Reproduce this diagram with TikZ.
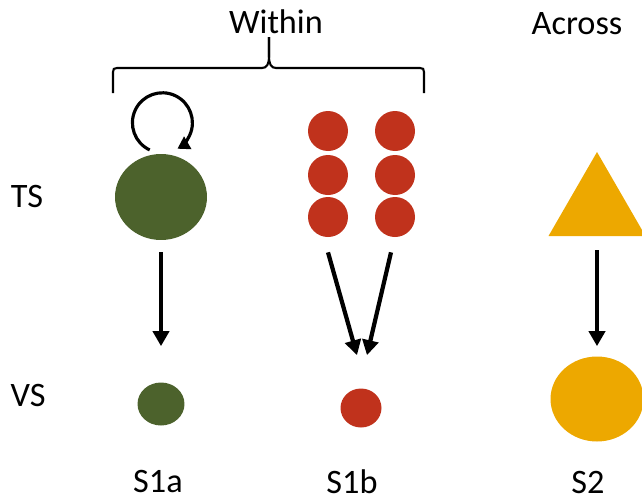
\documentclass[tikz,border=0pt]{standalone}
\usepackage{fontspec}
\setmainfont{Carlito}
\usetikzlibrary{arrows.meta,shapes.geometric}

\definecolor{tsgreen}{RGB}{76,98,44}
\definecolor{tsred}{RGB}{192,50,28}
\definecolor{tsorange}{RGB}{237,168,0}

\begin{document}
\begin{tikzpicture}[x=0.02cm,y=-0.02cm,
    every node/.style={font=\fontsize{19.5}{23}\selectfont},
    blob/.style={ellipse, fill=#1, draw=none, inner sep=0pt},
    dot/.style={circle, fill=tsred, draw=none, inner sep=0pt, minimum size=0.8cm},
    arrow/.style={line width=2.4pt, -{Triangle[width=0.32cm,length=0.3cm]}},
    selfloop/.style={line width=1.8pt, -{Triangle[width=0.28cm,length=0.24cm]}},
    bracket/.style={line width=1.2pt}]

    \useasboundingbox (0,0) rectangle (642,501);
    \clip (0,0) rectangle (642,501);

    % Headings
    \node (within) at (276,22) {Within};
    \node (across) at (577,24) {Across};

    % Row labels
    \node (ts) at (27,196) {TS};
    \node (vs) at (28,395) {VS};

    % S1a: one big source, one small target
    \node[blob=tsgreen, minimum width=1.84cm, minimum height=1.72cm] (biggreen) at (161,197) {};
    \node[blob=tsgreen, minimum width=0.94cm, minimum height=0.86cm] (smallgreen) at (161,404) {};

    % S1b: six red dots, one small target
    \node[dot] (r11) at (328,131) {};
    \node[dot] (r12) at (395,131) {};
    \node[dot] (r21) at (328,175) {};
    \node[dot] (r22) at (395,175) {};
    \node[dot] (r31) at (328,217) {};
    \node[dot] (r32) at (395,217) {};
    \node[blob=tsred, minimum width=0.82cm, minimum height=0.78cm] (smallred) at (361,408) {};

    % S2: triangle source, big circle target
    \node[regular polygon, regular polygon sides=3, fill=tsorange, draw=none,
          inner sep=0pt, minimum size=2.24cm] (tri) at (597,208) {};
    \node[blob=tsorange, minimum width=1.86cm, minimum height=1.7cm] (bigorange) at (597,399) {};

    % Brace over the "within" cases
    \coordinate (tip) at (269,37);
    \draw[bracket] (113,93) -- (113,72) .. controls (113,69) and (114,68) .. (117,68) -- (262,68)
        .. controls (267,68) and (269,64) .. (269,56) -- (tip);
    \draw[bracket] (424,93) -- (424,72) .. controls (424,69) and (423,68) .. (420,68) -- (276,68)
        .. controls (271,68) and (269,64) .. (269,56) -- (tip);

    % Self loop on the big green node
    \draw[selfloop] ([yshift=0.1cm]biggreen.105) arc[start angle=245, end angle=-60, radius=0.6cm];

    % Arrows from TS to VS
    \draw[arrow] ([yshift=-0.24cm]biggreen.south) -- ([yshift=0.72cm]smallgreen.north);
    \draw[arrow] ([yshift=-0.3cm]r31.south) -- ([xshift=-0.08cm,yshift=0.66cm]smallred.north);
    \draw[arrow] ([xshift=-0.08cm,yshift=-0.3cm]r32.south) -- ([xshift=0.12cm,yshift=0.66cm]smallred.north);
    \draw[arrow] ([yshift=-0.28cm]tri.side 2) -- ([yshift=0.2cm]bigorange.north);

    % Case labels
    \node (s1a) at (158,481) {S1a};
    \node (s1b) at (352,482) {S1b};
    \node (s2) at (588,482) {S2};

\end{tikzpicture}
\end{document}
